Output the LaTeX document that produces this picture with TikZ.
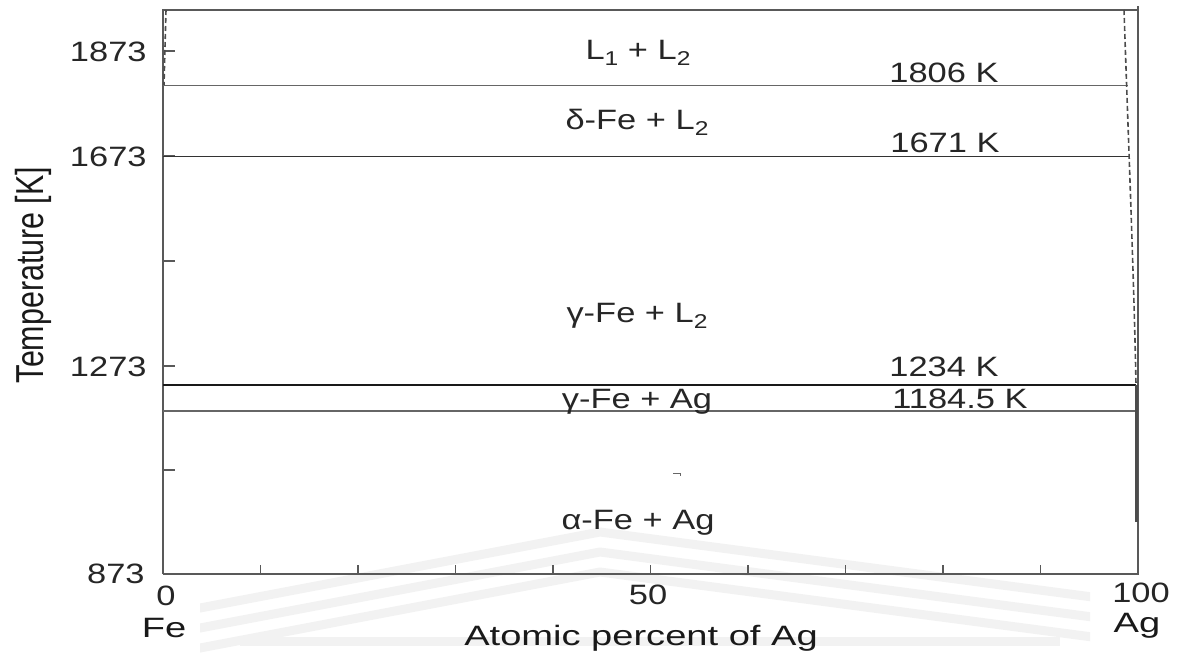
\documentclass[tikz,border=0pt]{standalone}
\usepackage{fontspec}
\setmainfont{Liberation Sans}
\newfontfamily\lblfont[FakeStretch=1.23]{Liberation Sans}
\newfontfamily\axfont[FakeStretch=1.36]{Liberation Sans}
\newfontfamily\rotfont[FakeStretch=0.78]{Liberation Sans}
\newcommand{\sbs}[1]{\raisebox{-3pt}{\fontsize{10}{12}\selectfont #1}}
\begin{document}
\begin{tikzpicture}[x=0.5pt,y=0.5pt,
  lbl/.style={font=\lblfont\fontsize{14}{16}\selectfont, inner sep=0pt, anchor=base, text=black!85},
  axlbl/.style={font=\axfont\fontsize{14}{16}\selectfont, inner sep=0pt, anchor=base, text=black!90},
  ticklbl/.style={font=\lblfont\fontsize{14}{16}\selectfont, inner sep=0pt, anchor=base east, text=black!85},
  frameline/.style={draw=black!65, line width=0.8pt},
  phaseline/.style={line width=0.9pt},
  tickline/.style={draw=black!65, line width=0.6pt},
  dashline/.style={draw=black!70, line width=0.8pt, dash pattern=on 2.5pt off 1.5pt},
  wmark/.style={draw=black!5, line width=4.5pt, line join=round}
]
\useasboundingbox (0,0) rectangle (1177,-654);
% faint watermark
\begin{scope}
\clip (200,-515) rectangle (1090,-654);
\draw[wmark] (100,-627) -- (600,-532) -- (1100,-598);
\draw[wmark] (100,-647) -- (600,-552) -- (1100,-618);
\draw[wmark] (100,-667) -- (600,-572) -- (1100,-638);
\draw[wmark] (240,-641) -- (1060,-641);
\end{scope}
% frame
\draw[frameline] (163,-574) -- (163,-10) -- (1138,-10);
\draw[frameline] (1138,-6) -- (1138,-574) -- (163,-574);
% y ticks
\foreach \yy in {470,366,261,156,51} \draw[tickline] (163,-\yy) -- (175,-\yy);
% x ticks
\foreach \i in {1,...,9} \draw[tickline] (163+97.5*\i,-574) -- (163+97.5*\i,-565);
% phase boundaries
\draw[phaseline, draw=black!60] (163,-85.5) -- (1128,-85.5);
\draw[phaseline, draw=black!80] (163,-156.5) -- (1130,-156.5);
\draw[phaseline, draw=black!90] (163,-385) -- (1136,-385);
\draw[phaseline, draw=black!60] (163,-411) -- (1136,-411);
% solubility (dashed) lines
\draw[dashline] (166,-10) -- (164,-85);
\draw[dashline] (1124,-10) .. controls (1128,-130) and (1134,-280) .. (1136,-385);
\draw[draw=black!70, line width=1.5pt] (1136,-385) -- (1136,-522);
\draw[draw=black!60, line width=0.5pt] (673,-473) -- (680,-473) -- (680,-476);
% phase labels
\node[lbl] (l1l2) at (638,-59) {L\sbs{1} + L\sbs{2}};
\node[lbl] (dfe) at (637,-129) {δ-Fe + L\sbs{2}};
\node[lbl] (gfel) at (637,-322) {γ-Fe + L\sbs{2}};
\node[lbl] (gfeag) at (637,-408) {γ-Fe + Ag};
\node[lbl] (afeag) at (638,-529) {α-Fe + Ag};
% temperature labels
\node[lbl] (t1806) at (944,-82) {1806 K};
\node[lbl] (t1671) at (945,-152) {1671 K};
\node[lbl] (t1234) at (944,-376) {1234 K};
\node[lbl] (t1184) at (960,-408) {1184.5 K};
% axis tick labels
\node[ticklbl] (y1873) at (147,-61) {1873};
\node[ticklbl] (y1673) at (147,-166) {1673};
\node[ticklbl] (y1273) at (147,-376) {1273};
\node[ticklbl] (y873) at (145,-583) {873};
\node[lbl] (x0) at (166,-605) {0};
\node[lbl] (x50) at (648,-604) {50};
\node[lbl] (x100) at (1141,-602) {100};
\node[axlbl] (fe) at (164,-637) {Fe};
\node[axlbl] (ag) at (1137,-632) {Ag};
\node[axlbl] (xtitle) at (641,-645) {Atomic percent of Ag};
\node[font=\rotfont\fontsize{19.5}{22}\selectfont, inner sep=0pt, anchor=base, rotate=90, text=black!90] (ytitle) at (43,-275) {Temperature [K]};
\end{tikzpicture}
\end{document}
